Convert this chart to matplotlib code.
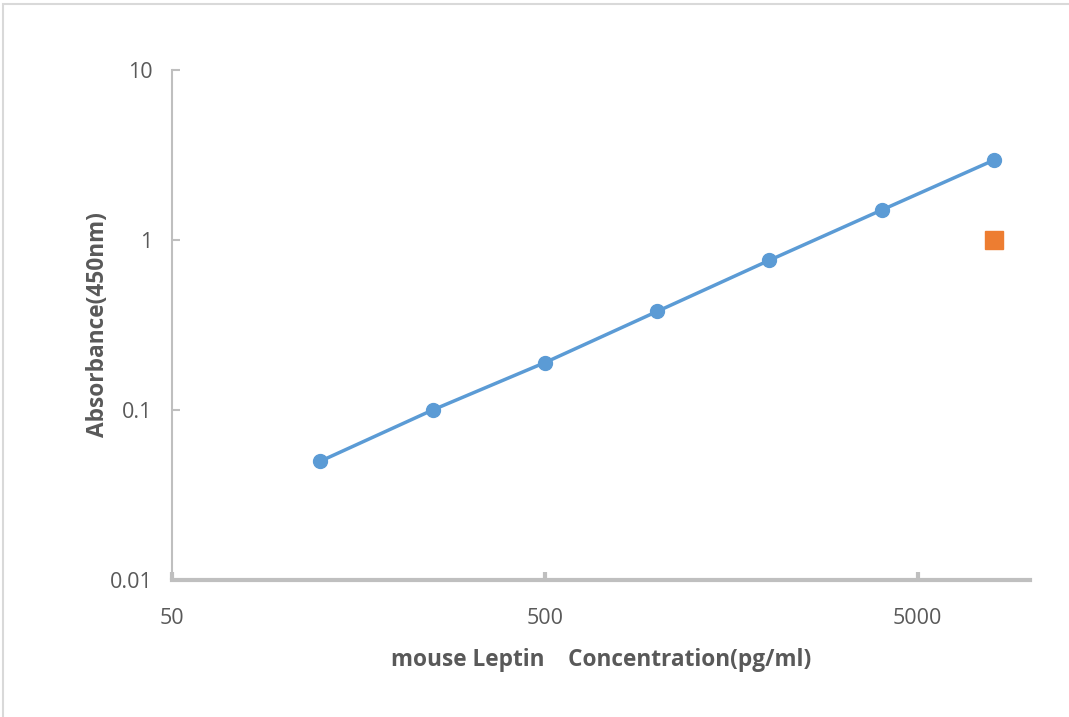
import matplotlib
matplotlib.use("Agg")
import matplotlib.pyplot as plt
from matplotlib.patches import Rectangle
from matplotlib.ticker import FixedLocator, FixedFormatter, NullLocator

# standard curve
conc = [125, 250, 500, 1000, 2000, 4000, 8000]
absorb = [0.05, 0.10, 0.19, 0.38, 0.76, 1.5, 2.95]
# sample point
sample_x = [8000]
sample_y = [1.0]

x_ticks = [50, 500, 5000]
x_labels = ["50", "500", "5000"]
y_ticks = [0.01, 0.1, 1, 10]
y_labels = ["0.01", "0.1", "1", "10"]

plt.rcParams["font.family"] = ["Open Sans", "DejaVu Sans"]

fig = plt.figure(figsize=(10.69, 7.17), dpi=100)
fig.patches.append(Rectangle((3 / 1069, -0.01), 1.02, 1 - 4 / 717 + 0.01,
                             transform=fig.transFigure, fill=False,
                             edgecolor="#d9d9d9", lw=1.5))
ax = fig.add_axes([172 / 1069, (717 - 580) / 717, 858 / 1069, 510 / 717])

ax.plot(conc, absorb, color="#5b9bd5", lw=2.5, marker="o", ms=10, zorder=3)
ax.plot(sample_x, sample_y, ls="none", marker="s", ms=13,
        color="#ed7d31", mec="#ed7d31", zorder=3)

ax.set_xscale("log")
ax.set_yscale("log")
ax.set_xlim(50, 10000)
ax.set_ylim(0.01, 10)

ax.xaxis.set_major_locator(FixedLocator(x_ticks))
ax.xaxis.set_major_formatter(FixedFormatter(x_labels))
ax.yaxis.set_major_locator(FixedLocator(y_ticks))
ax.yaxis.set_major_formatter(FixedFormatter(y_labels))
ax.xaxis.set_minor_locator(NullLocator())
ax.yaxis.set_minor_locator(NullLocator())

for s in ("top", "right"):
    ax.spines[s].set_visible(False)
ax.spines["bottom"].set_color("#bfbfbf")
ax.spines["bottom"].set_linewidth(3)
ax.spines["left"].set_color("#bfbfbf")
ax.spines["left"].set_linewidth(1.5)

ax.tick_params(axis="x", direction="in", length=6, width=3, color="#bfbfbf",
               labelsize=15.5, labelcolor="#595959", pad=20)
ax.tick_params(axis="y", direction="in", length=6, width=1.5, color="#bfbfbf",
               labelsize=15.5, labelcolor="#595959", pad=14)

ax.set_xlabel("mouse Leptin    Concentration(pg/ml)", fontsize=16.3,
              fontweight="bold", color="#595959", labelpad=14)
ax.set_ylabel("Absorbance(450nm)", fontsize=16.3, fontweight="bold",
              color="#595959", labelpad=0)

fig.savefig("out.png", dpi=100)
